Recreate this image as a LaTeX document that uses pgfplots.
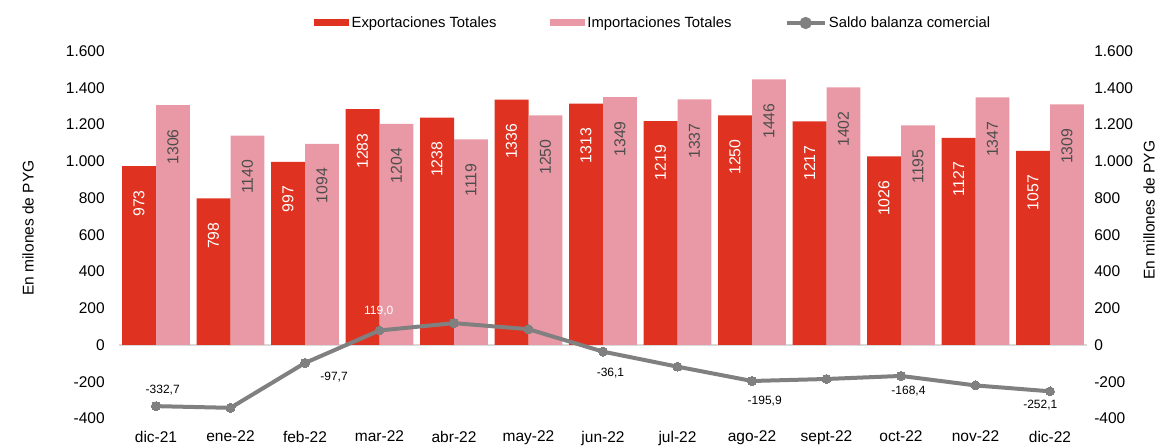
\documentclass[border=0pt]{standalone}
\usepackage{pgfplots}
\pgfplotsset{compat=1.18}
\usepackage{pgfplotstable}
\usepackage{fontspec}
\setmainfont{Liberation Sans}
\newcommand\fs[1]{\fontsize{#1bp}{#1bp}\selectfont}
\definecolor{expcol}{HTML}{E03220}
\definecolor{impcol}{HTML}{E899A5}
\definecolor{salcol}{HTML}{808080}
\definecolor{zerocol}{HTML}{D9D9D9}
\definecolor{implab}{HTML}{4D4D4D}

\pgfplotstableread{
x exp imp saldo
0 973 1306 -332.7
1 798 1140 -342
2 997 1094 -97.7
3 1283 1204 79
4 1238 1119 119.0
5 1336 1250 86
6 1313 1349 -36.1
7 1219 1337 -118
8 1250 1446 -195.9
9 1217 1402 -185
10 1026 1195 -168.4
11 1127 1347 -220
12 1057 1309 -252.1
}\datatable

\begin{document}
\begin{tikzpicture}
\useasboundingbox (0,0) rectangle (1158bp,446bp);
\begin{axis}[
  at={(118.75bp,27.5bp)}, anchor=south west,
  scale only axis, width=968.5bp, height=367.5bp,
  xmin=-0.5, xmax=12.5, ymin=-400, ymax=1600,
  axis line style={draw=none}, major tick length=0, tick style={draw=none},
  xtick={0,...,12},
  xticklabels={dic-21,ene-22,feb-22,mar-22,abr-22,may-22,jun-22,jul-22,ago-22,sept-22,oct-22,nov-22,dic-22},
  ytick={-400,-200,...,1600},
  yticklabels={-400,-200,0,200,400,600,800,1.000,1.200,1.400,1.600},
  tick label style={font=\fs{15.5}},
  yticklabel style={xshift=-10.5bp},
  xticklabel style={yshift=-9bp},
  clip=false,
  legend columns=3,
  legend style={at={(0.2016,1.0762)}, anchor=west, draw=none, fill=none,
    inner sep=0pt, font=\fs{14.8}, nodes={inner sep=2.5bp},
    /tikz/every even column/.append style={column sep=51bp}},
]
\draw[zerocol, line width=2bp] (axis cs:-0.5,0) -- (axis cs:12.5,0);
\addplot[ybar, bar width=0.456, bar shift=-0.228, fill=expcol, draw=none,
  point meta=explicit symbolic, nodes near coords,
  every node near coord/.append style={shift={(-17bp,0bp)}, rotate=90, anchor=east, inner xsep=24bp, inner ysep=0pt, font=\fs{15.8}, text=white},
  legend image code/.code={\fill[expcol] (0bp,-3.5bp) rectangle (35bp,3.5bp);}]
  table[x=x, y=exp, meta=exp] {\datatable};
\addlegendentry{Exportaciones Totales}
\addplot[ybar, bar width=0.456, bar shift=0.228, fill=impcol, draw=none,
  point meta=explicit symbolic, nodes near coords,
  every node near coord/.append style={shift={(17bp,0bp)}, rotate=90, anchor=east, inner xsep=24bp, inner ysep=0pt, font=\fs{15.8}, text=implab},
  legend image code/.code={\fill[impcol] (0bp,-3.5bp) rectangle (35bp,3.5bp);}]
  table[x=x, y=imp, meta=imp] {\datatable};
\addlegendentry{Importaciones Totales}
\addplot[salcol, line width=4bp, mark=*, mark size=4.5bp, mark options={fill=salcol, draw=salcol, line width=0pt},
  legend image code/.code={\draw[salcol, line width=3.5bp] (0bp,0bp) -- (38bp,0bp); \fill[salcol] (19bp,0bp) circle (4bp);}]
  table[x=x, y=saldo] {\datatable};
\addlegendentry{Saldo balanza comercial}
\begin{scope}[every node/.style={font=\fs{12}, inner sep=0pt}]
\node at (axis cs:0.09,-245) {-332,7};
\node at (axis cs:2.39,-174) {-97,7};
\node[text=white] at (axis cs:2.99,185) {119,0};
\node at (axis cs:6.1,-152) {-36,1};
\node at (axis cs:8.17,-305) {-195,9};
\node at (axis cs:10.1,-250) {-168,4};
\node at (axis cs:11.87,-327) {-252,1};
\end{scope}
\end{axis}
\begin{axis}[
  at={(118.75bp,27.5bp)}, anchor=south west,
  scale only axis, width=968.5bp, height=367.5bp,
  xmin=-0.5, xmax=12.5, ymin=-400, ymax=1600,
  hide x axis, axis y line*=right,
  axis line style={draw=none}, major tick length=0, tick style={draw=none},
  ytick={-400,-200,...,1600},
  yticklabels={-400,-200,0,200,400,600,800,1.000,1.200,1.400,1.600},
  tick label style={font=\fs{15.5}},
  yticklabel style={xshift=3.5bp},
]
\end{axis}
\node[rotate=90, font=\fs{15.5}] at (28bp,218bp) {En milones de PYG};
\node[rotate=90, font=\fs{15.5}] at (1149bp,236bp) {En millones de PYG};
\end{tikzpicture}
\end{document}
